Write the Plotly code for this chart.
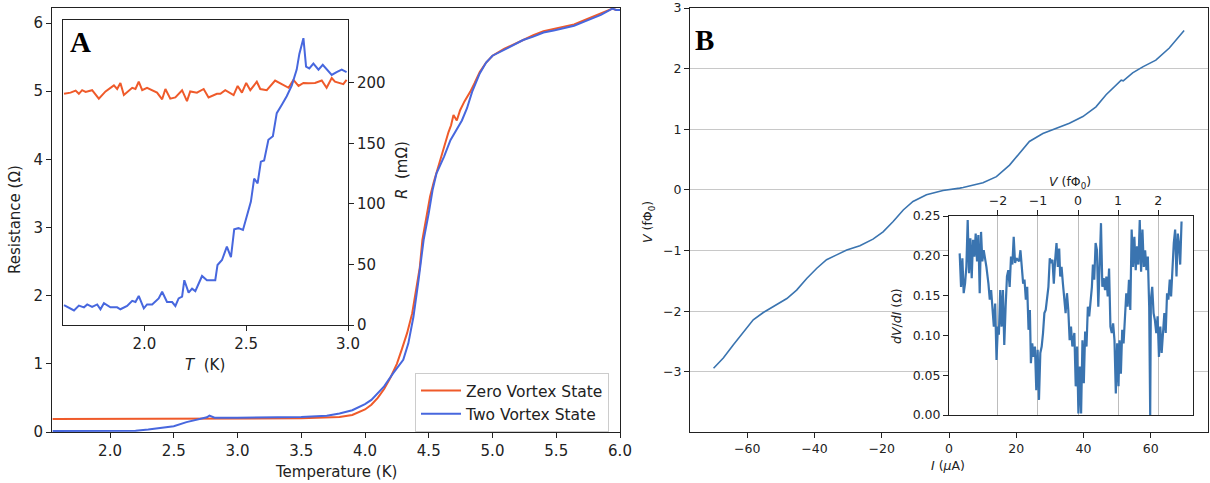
import plotly.graph_objects as go

# ---------------- Panel A: R(T) ----------------
zero_T = [1.55, 2.0, 2.5, 3.0, 3.5, 3.8, 3.9, 4.0, 4.05, 4.1,
          4.15, 4.2, 4.25, 4.29, 4.33, 4.37, 4.40, 4.43, 4.45, 4.485,
          4.51, 4.54, 4.59, 4.63, 4.655, 4.675, 4.694, 4.72, 4.746, 4.78,
          4.825, 4.86, 4.90, 4.95, 5.0, 5.09, 5.17, 5.24, 5.32, 5.40,
          5.48, 5.56, 5.64, 5.72, 5.80, 5.85, 5.90, 5.94, 5.97, 6.0]
zero_R = [0.19, 0.19, 0.195, 0.2, 0.2, 0.22, 0.25, 0.33, 0.40, 0.50,
          0.63, 0.80, 1.00, 1.22, 1.45, 1.74, 2.05, 2.42, 2.82, 3.21,
          3.45, 3.67, 3.99, 4.26, 4.40, 4.50, 4.65, 4.57, 4.72, 4.85,
          4.99, 5.12, 5.28, 5.42, 5.52, 5.62, 5.69, 5.76, 5.82, 5.88,
          5.91, 5.94, 5.98, 6.04, 6.10, 6.14, 6.18, 6.21, 6.19, 6.19]

two_T = [1.55, 2.0, 2.2, 2.3, 2.4, 2.5, 2.6, 2.7, 2.76, 2.78,
         2.82, 3.0, 3.5, 3.7, 3.8, 3.9, 4.0, 4.05, 4.1, 4.15,
         4.22, 4.30, 4.34, 4.38, 4.42, 4.46, 4.50, 4.53, 4.56, 4.62,
         4.67, 4.72, 4.76, 4.80, 4.84, 4.90, 4.95, 5.0, 5.09, 5.17,
         5.24, 5.32, 5.40, 5.48, 5.56, 5.64, 5.72, 5.80, 5.85, 5.90,
         5.94, 5.97, 6.0]
two_R = [0.015, 0.018, 0.02, 0.035, 0.055, 0.085, 0.145, 0.19, 0.215, 0.24,
         0.21, 0.21, 0.22, 0.24, 0.27, 0.32, 0.41, 0.47, 0.57, 0.67,
         0.86, 1.06, 1.30, 1.69, 2.23, 2.82, 3.21, 3.55, 3.79, 4.04,
         4.28, 4.45, 4.57, 4.75, 4.99, 5.26, 5.42, 5.52, 5.61, 5.68,
         5.75, 5.80, 5.86, 5.89, 5.92, 5.96, 6.02, 6.08, 6.12, 6.17,
         6.21, 6.19, 6.19]

# inset A (mOhm)
inA_zero_T = [1.605, 1.637, 1.662, 1.678, 1.694, 1.711, 1.743, 1.776, 1.809, 1.850,
              1.866, 1.882, 1.899, 1.940, 1.956, 1.972, 1.989, 2.013, 2.062, 2.087,
              2.103, 2.127, 2.152, 2.185, 2.209, 2.225, 2.258, 2.291, 2.315, 2.356,
              2.373, 2.397, 2.438, 2.458, 2.479, 2.500, 2.520, 2.552, 2.569, 2.601,
              2.642, 2.675, 2.708, 2.732, 2.757, 2.781, 2.806, 2.838, 2.871, 2.895,
              2.920, 2.936, 2.953, 2.977, 2.993]
inA_zero_R = [191, 192, 193.7, 191, 194, 192.6, 194, 187, 193, 198,
              195, 200, 190, 196, 195, 201, 194, 196, 192, 186.5,
              195, 187, 188, 194, 185, 193, 192, 195, 188, 191,
              191, 194, 190, 197.5, 192, 200, 194, 201, 195, 194,
              202, 199, 196, 202.5, 197.5, 200, 199.7, 200, 202, 196,
              204, 201, 200, 199, 202.5]
inA_two_T = [1.605, 1.621, 1.654, 1.678, 1.703, 1.719, 1.743, 1.768, 1.784, 1.801,
             1.833, 1.866, 1.882, 1.915, 1.940, 1.956, 1.972, 1.997, 2.013, 2.038,
             2.070, 2.087, 2.111, 2.136, 2.152, 2.168, 2.185, 2.196, 2.217, 2.234,
             2.250, 2.283, 2.307, 2.348, 2.359, 2.381, 2.405, 2.425, 2.441, 2.462,
             2.484, 2.523, 2.539, 2.556, 2.572, 2.588, 2.609, 2.631, 2.650, 2.675,
             2.699, 2.724, 2.748, 2.761, 2.781, 2.794, 2.810, 2.830, 2.855, 2.876,
             2.895, 2.920, 2.944, 2.969, 2.993]
inA_two_R = [16.5, 15, 12, 16, 14.6, 17, 15, 17, 13, 18,
             14.6, 14.6, 13, 15.7, 20, 19, 24, 13.8, 17, 17,
             22, 27.5, 19, 19, 15.7, 22, 23.4, 37, 26.7, 30,
             28, 40.5, 37, 37, 49.6, 53.7, 64.7, 56, 79, 80,
             78.5, 102, 121, 117, 135, 136, 153, 156, 175, 182,
             189, 198, 211, 224, 237, 213.5, 212, 216, 211, 215,
             211, 206.6, 209, 211, 209]

# ---------------- Panel B: V(I) ----------------
B_I = [-70.0, -67.1, -64.1, -61.1, -58.2, -55.2, -52.2, -48.2, -45.3, -42.3,
       -39.3, -36.4, -33.4, -30.4, -26.5, -22.6, -19.6, -16.6, -13.6, -10.7,
       -6.7, -1.8, 3.2, 4.2, 10.1, 14.1, 18.0, 21.0, 23.9, 27.9,
       31.9, 35.8, 39.8, 43.7, 46.7, 49.7, 51.2, 51.8, 54.6, 57.6,
       61.5, 65.5, 69.9]
B_V = [-2.94, -2.77, -2.55, -2.34, -2.14, -2.02, -1.92, -1.79, -1.65, -1.46,
       -1.29, -1.15, -1.07, -0.99, -0.92, -0.81, -0.69, -0.52, -0.33, -0.19,
       -0.08, -0.01, 0.03, 0.04, 0.12, 0.22, 0.41, 0.60, 0.80, 0.93,
       1.02, 1.10, 1.21, 1.37, 1.57, 1.73, 1.81, 1.80, 1.93, 2.03,
       2.14, 2.34, 2.63]

dvdi_I = [3.17, 3.57, 3.97, 4.36, 4.76, 5.15, 5.55, 5.94, 6.34, 6.74,
          7.13, 7.53, 7.92, 8.32, 8.71, 9.11, 9.51, 9.90, 10.3, 10.7,
          11.1, 11.7, 12.1, 12.5, 12.9, 13.3, 13.7, 14.1, 14.5, 14.8,
          15.2, 15.6, 16.0, 16.4, 16.8, 17.2, 17.6, 18.0, 18.4, 18.8,
          19.2, 19.6, 20.0, 20.4, 20.8, 21.2, 21.6, 22.0, 22.4, 22.8,
          23.2, 23.6, 24.0, 24.3, 24.7, 25.1, 25.5, 25.9, 26.3, 26.7,
          27.1, 27.5, 27.9, 28.3, 28.7, 29.1, 29.5, 29.9, 30.3, 30.7,
          31.1, 31.5, 31.9, 32.3, 32.7, 33.0, 33.4, 33.8, 34.2, 34.6,
          35.0, 35.4, 35.8, 36.2, 36.6, 37.0, 37.2, 37.6, 38.0, 38.4,
          38.8, 39.2, 39.6, 40.0, 40.4, 40.8, 41.2, 41.6, 42.0, 42.4,
          42.7, 43.1, 43.5, 43.9, 44.3, 44.7, 45.1, 45.5, 45.9, 46.3,
          46.7, 47.1, 47.5, 47.9, 48.3, 48.7, 49.1, 49.5, 49.9, 50.3,
          50.6, 51.0, 51.4, 51.8, 52.2, 52.6, 53.0, 53.4, 53.8, 54.2,
          54.6, 55.0, 55.4, 55.8, 56.2, 56.6, 57.0, 57.4, 57.8, 58.2,
          58.6, 59.0, 59.4, 59.7, 59.9, 60.3, 60.7, 61.1, 61.5, 61.9,
          62.3, 62.7, 63.1, 63.5, 63.9, 64.3, 64.7, 65.1, 65.5, 65.9,
          66.3, 66.7, 67.1, 67.5, 67.9, 68.2, 68.6, 69.0]
dvdi_val = [0.203, 0.161, 0.197, 0.153, 0.165, 0.186, 0.245, 0.178, 0.222, 0.172,
            0.220, 0.199, 0.228, 0.193, 0.226, 0.153, 0.230, 0.193, 0.207, 0.197,
            0.186, 0.165, 0.145, 0.157, 0.132, 0.111, 0.140, 0.069, 0.111, 0.101,
            0.157, 0.111, 0.157, 0.088, 0.136, 0.174, 0.182, 0.161, 0.199, 0.189,
            0.224, 0.191, 0.197, 0.195, 0.193, 0.207, 0.180, 0.165, 0.170, 0.145,
            0.161, 0.107, 0.132, 0.065, 0.090, 0.073, 0.086, 0.031, 0.082, 0.019,
            0.078, 0.086, 0.103, 0.128, 0.132, 0.145, 0.161, 0.197, 0.191, 0.195,
            0.165, 0.195, 0.216, 0.186, 0.209, 0.174, 0.186, 0.165, 0.149, 0.128,
            0.153, 0.132, 0.094, 0.111, 0.086, 0.098, 0.103, 0.036, 0.086, 0.002,
            0.061, 0.002, 0.094, 0.040, 0.105, 0.086, 0.136, 0.124, 0.140, 0.161,
            0.189, 0.170, 0.216, 0.207, 0.136, 0.207, 0.241, 0.161, 0.172, 0.157,
            0.174, 0.149, 0.184, 0.111, 0.103, 0.115, 0.094, 0.027, 0.090, 0.036,
            0.094, 0.052, 0.107, 0.090, 0.124, 0.153, 0.136, 0.170, 0.132, 0.233,
            0.186, 0.224, 0.182, 0.212, 0.189, 0.245, 0.180, 0.233, 0.186, 0.207,
            0.182, 0.199, 0.136, 0.000, 0.145, 0.161, 0.128, 0.119, 0.103, 0.124,
            0.073, 0.111, 0.078, 0.103, 0.128, 0.103, 0.153, 0.145, 0.170, 0.149,
            0.195, 0.216, 0.233, 0.174, 0.228, 0.216, 0.189, 0.243]

A_x_ticks = [2.0, 2.5, 3.0, 3.5, 4.0, 4.5, 5.0, 5.5, 6.0]
A_y_ticks = [0, 1, 2, 3, 4, 5, 6]
inA_x_ticks = [2.0, 2.5, 3.0]
inA_y_ticks = [0, 50, 100, 150, 200]
B_x_ticks = [-60, -40, -20, 0, 20, 40, 60]
B_y_ticks = [-3, -2, -1, 0, 1, 2, 3]
inB_y_ticks = [0.0, 0.05, 0.10, 0.15, 0.20, 0.25]
inB_top_ticks = [-2, -1, 0, 1, 2]

ORANGE = "#ef5a2a"
BLUE = "#4767de"
BBLUE = "#3a74b0"
INK = "#222222"
W, H = 1210, 483


def px(x):
    return x / W


def py(y):
    return 1 - y / H


fig = go.Figure()
fig.add_trace(go.Scatter(x=zero_T, y=zero_R, mode="lines", name="Zero Vortex State",
                         line=dict(color=ORANGE, width=2), xaxis="x", yaxis="y"))
fig.add_trace(go.Scatter(x=two_T, y=two_R, mode="lines", name="Two Vortex State",
                         line=dict(color=BLUE, width=2), xaxis="x", yaxis="y"))
fig.add_trace(go.Scatter(x=inA_zero_T, y=inA_zero_R, mode="lines", showlegend=False,
                         line=dict(color=ORANGE, width=2), xaxis="x2", yaxis="y2"))
fig.add_trace(go.Scatter(x=inA_two_T, y=inA_two_R, mode="lines", showlegend=False,
                         line=dict(color=BLUE, width=2), xaxis="x2", yaxis="y2"))
fig.add_trace(go.Scatter(x=B_I, y=B_V, mode="lines", showlegend=False,
                         line=dict(color=BBLUE, width=1.6), xaxis="x3", yaxis="y3"))
fig.add_trace(go.Scatter(x=dvdi_I, y=dvdi_val, mode="lines", showlegend=False,
                         line=dict(color=BBLUE, width=2.2), xaxis="x4", yaxis="y4"))
# empty carrier so the top (flux) axis of the inset is drawn
fig.add_trace(go.Scatter(x=inB_top_ticks, y=[None] * len(inB_top_ticks), mode="lines",
                         showlegend=False, hoverinfo="skip", xaxis="x5", yaxis="y4"))

common = dict(showline=True, linecolor=INK, linewidth=1, mirror=True,
              ticks="outside", ticklen=5, tickwidth=1, tickcolor=INK,
              showgrid=False, zeroline=False, automargin=False)
fA = dict(family="DejaVu Sans", size=15, color=INK)
fB = dict(family="DejaVu Sans", size=12.5, color=INK)

fig.update_layout(
    width=W, height=H, margin=dict(l=0, r=0, t=0, b=0, autoexpand=False),
    paper_bgcolor="white", plot_bgcolor="white",
    font=dict(family="DejaVu Sans", color=INK),
    xaxis=dict(domain=[px(52), px(620)], anchor="y", range=[1.545, 6.0],
               tickvals=A_x_ticks, tickformat=".1f", tickfont=fA, **common),
    yaxis=dict(domain=[py(432), py(8)], anchor="x", range=[0, 6.22],
               tickvals=A_y_ticks, tickfont=fA, **common),
    xaxis2=dict(domain=[px(63), px(348)], anchor="y2", range=[1.6, 3.0],
                tickvals=inA_x_ticks, tickformat=".1f", tickfont=fA, **common),
    yaxis2=dict(domain=[py(325), py(20)], anchor="x2", side="right", range=[0, 252],
                tickvals=inA_y_ticks, tickfont=fA, **common),
    xaxis3=dict(domain=[px(690), px(1208)], anchor="y3", range=[-77, 77],
                tickvals=B_x_ticks, tickfont=fB, **common),
    yaxis3=dict(domain=[py(432), py(8)], anchor="x3", range=[-3.99, 3.0],
                tickvals=B_y_ticks, tickfont=fB,
                **{**common, "showgrid": True}, gridcolor="#c8c8c8", gridwidth=1),
    xaxis4=dict(domain=[px(949), px(1193)], anchor="y4", range=[0, 72.4],
                showticklabels=False, showline=True, linecolor=INK, linewidth=1,
                mirror=True, ticks="", showgrid=False, zeroline=False, automargin=False),
    yaxis4=dict(domain=[py(415), py(216)], anchor="x4", range=[0, 0.25],
                tickvals=inB_y_ticks, tickformat=".2f", tickfont=fB, **common),
    xaxis5=dict(overlaying="x4", anchor="y4", side="top", range=[-3.22, 2.87],
                tickvals=inB_top_ticks, tickfont=fB, ticks="outside", ticklen=5,
                tickwidth=1, tickcolor=INK, showline=False, showgrid=True,
                gridcolor="#bdbdbd", gridwidth=1, zeroline=False, automargin=False),
    legend=dict(x=px(415), y=py(373), xanchor="left", yanchor="top",
                bordercolor="#cccccc", borderwidth=1, bgcolor="rgba(255,255,255,0.85)",
                itemwidth=40,
                font=dict(family="DejaVu Sans", size=15.5, color=INK), tracegroupgap=0),
)


def ann(text, x, y, size, angle=0, family="DejaVu Sans", color=INK):
    fig.add_annotation(text=text, x=px(x), y=py(y), xref="paper", yref="paper",
                       showarrow=False, xanchor="center", yanchor="middle",
                       textangle=angle, font=dict(family=family, size=size, color=color))


ann("Resistance (Ω)", 15, 220, 15, -90)
ann("Temperature (K)", 336, 472, 15)
ann("<i>T</i>  (K)", 205, 365, 15)
ann("<i>R</i>  (mΩ)", 402, 170, 15, -90)
ann("<b>A</b>", 80, 42, 29, family="Liberation Serif", color="black")
ann("<b>B</b>", 705, 40, 29, family="Liberation Serif", color="black")
ann("<i>V</i> (fΦ<sub>0</sub>)", 648, 222, 12.5, -90)
ann("<i>I</i> (<i>μ</i>A)", 948, 465, 12.5)
ann("<i>V</i> (fΦ<sub>0</sub>)", 1070, 183, 12.5)
ann("<i>dV</i>/<i>dI</i> (Ω)", 896, 316, 12.5, -90)

fig.write_html("out.html")
